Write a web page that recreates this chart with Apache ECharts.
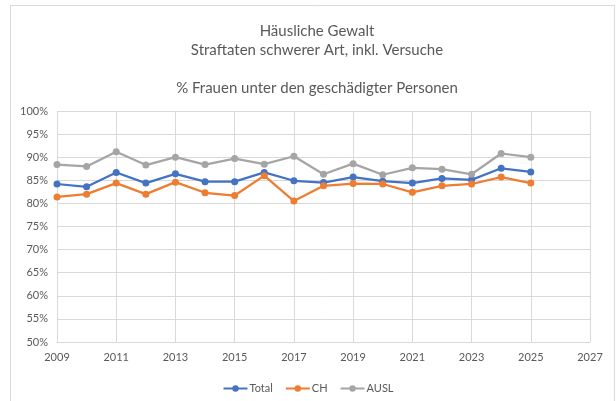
<!DOCTYPE html>
<html>
<head>
<meta charset="utf-8">
<script src="https://cdn.jsdelivr.net/npm/echarts@6/dist/echarts.min.js"></script>
<style>
  html, body { margin: 0; padding: 0; background: #fff; }
  #chart { width: 616px; height: 401px; }
</style>
</head>
<body>
<div id="chart"></div>
<script>
// Jahre und Anteile Frauen (%)
const years = [2009, 2010, 2011, 2012, 2013, 2014, 2015, 2016, 2017, 2018, 2019, 2020, 2021, 2022, 2023, 2024, 2025];
const total = [84.2, 83.6, 86.7, 84.4, 86.4, 84.7, 84.7, 86.7, 84.9, 84.5, 85.7, 84.8, 84.4, 85.4, 85.1, 87.6, 86.8];
const ch    = [81.4, 82.0, 84.4, 82.0, 84.6, 82.3, 81.7, 86.0, 80.5, 83.8, 84.3, 84.2, 82.4, 83.8, 84.2, 85.7, 84.4];
const ausl  = [88.4, 88.0, 91.2, 88.3, 90.0, 88.4, 89.7, 88.5, 90.2, 86.3, 88.6, 86.2, 87.7, 87.4, 86.3, 90.8, 90.0];
const seriesNames = ['Total', 'CH', 'AUSL'];
const colors = ['#4472C4', '#ED7D31', '#A5A5A5'];

const font = 'Lato, "Open Sans", sans-serif';

function pairs(vals) {
    return years.map((y, i) => [y, vals[i]]);
}

const chart = echarts.init(document.getElementById('chart'));
chart.setOption({
    animation: false,
    textStyle: { fontFamily: font },
    title: [
        {
            text: 'Häusliche Gewalt\nStraftaten schwerer Art, inkl. Versuche',
            left: 312,
            top: 17,
            textAlign: 'center',
            textStyle: { fontSize: 15, fontWeight: 'normal', color: '#595959', lineHeight: 19, fontFamily: font }
        },
        {
            text: '% Frauen unter den geschädigter Personen',
            left: 312,
            top: 76,
            textAlign: 'center',
            textStyle: { fontSize: 15, fontWeight: 'normal', color: '#595959', fontFamily: font }
        }
    ],
    graphic: [{
        type: 'rect',
        shape: { x: 10.5, y: 5.5, width: 604, height: 420 },
        style: { fill: 'none', stroke: '#d9d9d9', lineWidth: 1 },
        silent: true
    }],
    legend: {
        data: seriesNames,
        left: 'center',
        top: 378,
        itemWidth: 24,
        itemHeight: 8,
        itemGap: 12,
        textStyle: { fontSize: 11, color: '#595959', fontFamily: font, padding: [0, 0, 0, -3] }
    },
    grid: { left: 57, right: 26, top: 111, bottom: 59 },
    xAxis: {
        type: 'value',
        min: 2009,
        max: 2027,
        interval: 2,
        axisLine: { show: true, lineStyle: { color: '#d9d9d9' } },
        axisTick: { show: false },
        splitLine: { show: true, lineStyle: { color: '#d9d9d9' } },
        axisLabel: { color: '#595959', fontSize: 11, margin: 10, fontFamily: font, formatter: v => String(v) }
    },
    yAxis: {
        type: 'value',
        min: 50,
        max: 100,
        interval: 5,
        axisLine: { show: false },
        axisTick: { show: false },
        splitLine: { lineStyle: { color: '#d9d9d9' } },
        axisLabel: { color: '#595959', fontSize: 11, margin: 9, formatter: '{value}%', fontFamily: font }
    },
    series: [total, ch, ausl].map((vals, i) => ({
        name: seriesNames[i],
        type: 'line',
        data: pairs(vals),
        symbol: 'circle',
        symbolSize: 7,
        lineStyle: { width: 2.25, color: colors[i] },
        itemStyle: { color: colors[i] }
    }))
});
</script>
</body>
</html>
